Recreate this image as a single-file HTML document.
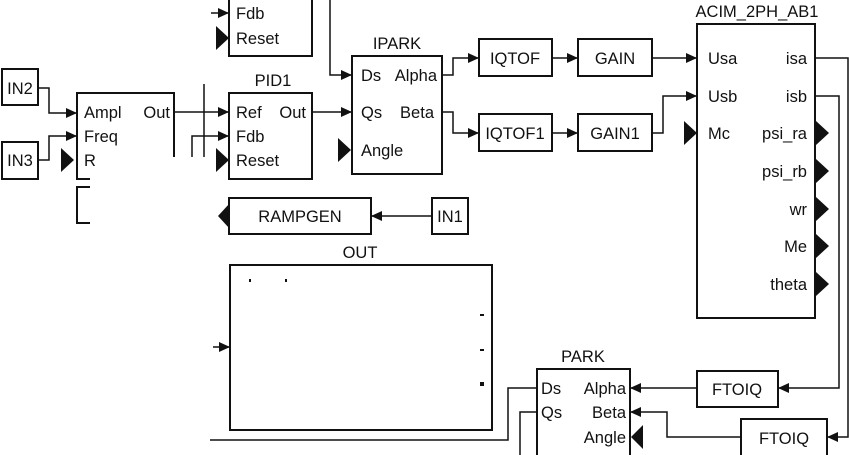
<!DOCTYPE html>
<html><head><meta charset="utf-8"><style>
html,body{margin:0;padding:0;background:#fff;}
svg{display:block;}
text{font-family:"Liberation Sans",sans-serif;font-size:16.5px;fill:#111;}
</style></head><body>
<svg width="849" height="455" viewBox="0 0 849 455" xmlns="http://www.w3.org/2000/svg">
<defs>
<marker id="a" markerWidth="11" markerHeight="10" refX="11" refY="5" orient="auto" markerUnits="userSpaceOnUse"><path d="M0,0 L11,5 L0,10 Z" fill="#111"/></marker>
</defs>
<g fill="none" stroke="#111" stroke-width="2">
<path d="M229,-2 V56 H312 V-2"/>
<rect x="352" y="56" width="90" height="118"/>
<rect x="2" y="69" width="36" height="36"/>
<rect x="2" y="142" width="36" height="37"/>
<path d="M174,157 V93 H77 V179 H90"/>
<path d="M90,187 H77 V223 H90"/>
<rect x="229" y="93" width="83" height="86"/>
<rect x="229" y="198" width="142" height="36"/>
<rect x="432" y="198" width="36" height="36"/>
<rect x="479" y="39" width="73" height="37"/>
<rect x="578" y="39" width="74" height="37"/>
<rect x="479" y="114" width="73" height="37"/>
<rect x="578" y="114" width="74" height="37"/>
<rect x="697" y="24" width="118" height="294"/>
<rect x="230" y="265" width="262" height="165"/>
<path d="M537,457 V369 H630 V457"/>
<rect x="697" y="371" width="81" height="36"/>
<path d="M741,457 V419 H827 V457"/>
</g>
<g fill="none" stroke="#111" stroke-width="1.5">
<path d="M211,13 H229" marker-end="url(#a)"/>
<path d="M330,0 V75 H352" marker-end="url(#a)"/>
<path d="M38,88 H49 V113 H77" marker-end="url(#a)"/>
<path d="M38,160 H49 V136 H77" marker-end="url(#a)"/>
<path d="M174,112 H229" marker-end="url(#a)"/>
<path d="M204,84 V157"/>
<path d="M192,157 V136 H229" marker-end="url(#a)"/>
<path d="M312,112 H352" marker-end="url(#a)"/>
<path d="M442,75 H453 V58 H479" marker-end="url(#a)"/>
<path d="M442,112 H453 V133 H479" marker-end="url(#a)"/>
<path d="M552,58 H578" marker-end="url(#a)"/>
<path d="M552,133 H578" marker-end="url(#a)"/>
<path d="M652,58 H697" marker-end="url(#a)"/>
<path d="M652,133 H663 V96 H697" marker-end="url(#a)"/>
<path d="M432,216 H371" marker-end="url(#a)"/>
<path d="M815,58 H848 V437 H827" marker-end="url(#a)"/>
<path d="M815,96 H839 V388 H778" marker-end="url(#a)"/>
<path d="M697,388 H630" marker-end="url(#a)"/>
<path d="M741,437 H667 V412 H630" marker-end="url(#a)"/>
<path d="M537,388 H508 V440 H210"/>
<path d="M537,412 H520 V457"/>
<path d="M213,347 H230" marker-end="url(#a)"/>
</g>
<g fill="#111">
<path d="M216,26 L229,38 L216,50 Z"/>
<path d="M61,148 L74,160 L61,172 Z"/>
<path d="M216,148 L229,160 L216,172 Z"/>
<path d="M338,138 L351,150 L338,162 Z"/>
<path d="M229,204 L218,216 L229,228 Z"/>
<path d="M684,121 L697,133 L684,145 Z"/>
<path d="M816,121 L829,133 L816,145 Z"/>
<path d="M816,159 L829,171 L816,183 Z"/>
<path d="M816,197 L829,209 L816,221 Z"/>
<path d="M816,234 L829,246 L816,258 Z"/>
<path d="M816,272 L829,284 L816,296 Z"/>
<path d="M643,425 L631,437 L643,449 Z"/>
<rect x="480" y="314" width="4" height="2"/>
<rect x="480" y="349" width="4" height="2"/>
<rect x="480" y="382" width="4" height="4"/>
<rect x="249" y="279" width="2" height="3"/>
<rect x="285" y="279" width="2" height="3"/>
</g>
<text x="236" y="19">Fdb</text>
<text x="236" y="44">Reset</text>
<text x="397" y="49" text-anchor="middle">IPARK</text>
<text x="361" y="81">Ds</text><text x="437" y="81" text-anchor="end">Alpha</text>
<text x="361" y="118">Qs</text><text x="434" y="118" text-anchor="end">Beta</text>
<text x="361" y="156">Angle</text>
<text x="20" y="94" text-anchor="middle">IN2</text>
<text x="20" y="166" text-anchor="middle">IN3</text>
<text x="84" y="118">Ampl</text><text x="170" y="118" text-anchor="end">Out</text>
<text x="84" y="142">Freq</text>
<text x="84" y="166">R</text>
<text x="273" y="86" text-anchor="middle">PID1</text>
<text x="236" y="118">Ref</text><text x="306" y="118" text-anchor="end">Out</text>
<text x="236" y="142">Fdb</text>
<text x="236" y="166">Reset</text>
<text x="300" y="222" text-anchor="middle">RAMPGEN</text>
<text x="450" y="222" text-anchor="middle">IN1</text>
<text x="515" y="64" text-anchor="middle">IQTOF</text>
<text x="615" y="64" text-anchor="middle">GAIN</text>
<text x="515" y="139" text-anchor="middle">IQTOF1</text>
<text x="615" y="139" text-anchor="middle">GAIN1</text>
<text x="757" y="17" text-anchor="middle">ACIM_2PH_AB1</text>
<text x="708" y="64">Usa</text><text x="807" y="64" text-anchor="end">isa</text>
<text x="708" y="102">Usb</text><text x="807" y="102" text-anchor="end">isb</text>
<text x="708" y="139">Mc</text><text x="807" y="139" text-anchor="end">psi_ra</text>
<text x="807" y="177" text-anchor="end">psi_rb</text>
<text x="807" y="215" text-anchor="end">wr</text>
<text x="807" y="252" text-anchor="end">Me</text>
<text x="807" y="290" text-anchor="end">theta</text>
<text x="360" y="258" text-anchor="middle">OUT</text>
<text x="583" y="362" text-anchor="middle">PARK</text>
<text x="541" y="394">Ds</text><text x="626" y="394" text-anchor="end">Alpha</text>
<text x="541" y="418">Qs</text><text x="626" y="418" text-anchor="end">Beta</text>
<text x="626" y="443" text-anchor="end">Angle</text>
<text x="737" y="395" text-anchor="middle">FTOIQ</text>
<text x="784" y="444" text-anchor="middle">FTOIQ</text>
</svg>
</body></html>
